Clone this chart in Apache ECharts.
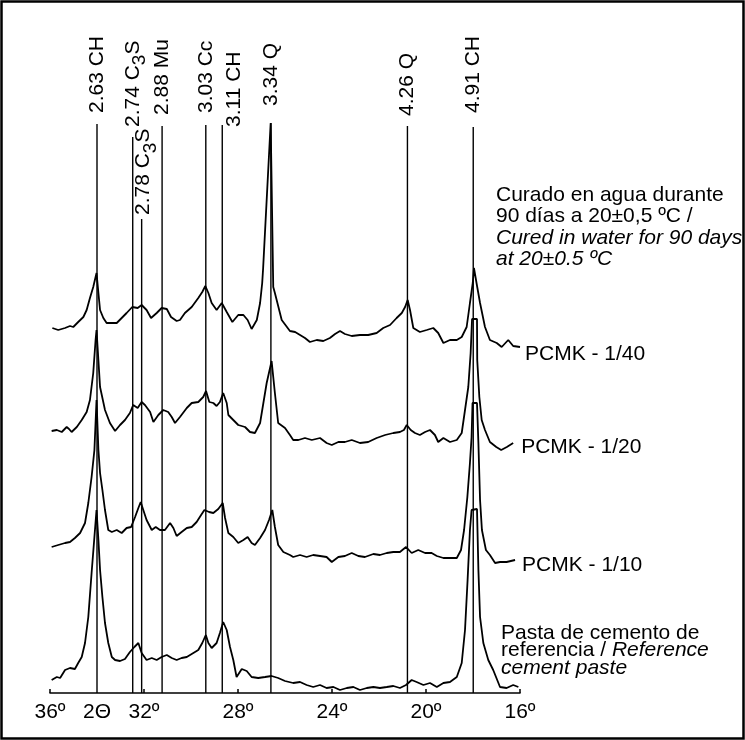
<!DOCTYPE html>
<html><head><meta charset="utf-8">
<script src="https://cdn.jsdelivr.net/npm/echarts@6/dist/echarts.min.js"></script>
<style>html,body{margin:0;padding:0;background:#fff}#c{width:745px;height:740px}</style>
</head><body><div id="c"></div>
<script>
// ---- DATA (2θ in degrees, intensity in arbitrary stacked units) ----
const pcmk140 = [[35.90,365],[35.65,363],[35.36,365],[35.15,367],[35.01,366],[34.80,371],[34.58,376],[34.44,383],[34.30,395],[34.16,406],[34.02,420],[33.94,400],[33.87,383],[33.73,375],[33.59,370],[33.37,370],[33.16,370],[32.95,375],[32.74,380],[32.50,386],[32.27,385],[32.10,388],[31.89,383],[31.70,375],[31.46,380],[31.25,385],[31.03,384],[30.85,376],[30.61,372],[30.47,373],[30.26,380],[29.97,386],[29.69,395],[29.52,401],[29.39,407],[29.26,400],[29.12,390],[28.91,383],[28.69,390],[28.48,381],[28.24,371],[27.99,378],[27.77,378],[27.59,373],[27.42,364],[27.20,373],[27.06,390],[26.97,410],[26.93,425],[26.61,570],[26.50,406],[26.43,400],[26.14,373],[25.79,362],[25.57,361],[25.36,358],[25.15,355],[24.94,351],[24.65,353],[24.37,352],[24.09,355],[23.87,359],[23.66,362],[23.45,359],[23.16,357],[22.81,358],[22.46,358],[22.10,360],[21.82,365],[21.53,368],[21.25,375],[21.03,380],[20.89,386],[20.78,393],[20.68,383],[20.54,365],[20.26,361],[19.97,363],[19.69,365],[19.48,360],[19.26,350],[18.98,353],[18.69,353],[18.48,356],[18.27,366],[18.13,390],[18.01,410],[17.96,425],[17.82,406],[17.70,390],[17.49,366],[17.28,353],[16.99,350],[16.78,346],[16.50,353],[16.29,347],[16.00,346]];
const pcmk120 = [[35.93,262],[35.71,263],[35.50,261],[35.29,266],[35.19,264],[35.08,261],[34.86,266],[34.65,273],[34.44,281],[34.30,293],[34.16,320],[34.06,353],[34.02,363],[33.87,306],[33.66,283],[33.45,270],[33.23,262],[33.02,268],[32.81,273],[32.60,280],[32.46,288],[32.27,285],[32.10,291],[31.96,288],[31.74,281],[31.60,271],[31.39,278],[31.18,283],[30.97,281],[30.82,276],[30.68,270],[30.47,276],[30.18,285],[29.97,290],[29.69,291],[29.48,296],[29.36,302],[29.22,291],[29.05,290],[28.91,287],[28.77,291],[28.63,300],[28.48,290],[28.41,278],[28.20,273],[27.99,268],[27.70,266],[27.49,261],[27.28,260],[27.06,270],[26.92,290],[26.78,310],[26.57,332],[26.43,300],[26.29,270],[26.00,265],[25.79,258],[25.65,253],[25.43,253],[25.15,255],[24.86,253],[24.51,255],[24.23,250],[24.01,248],[23.73,251],[23.45,251],[23.16,253],[22.81,250],[22.46,251],[22.10,255],[21.74,258],[21.39,260],[21.11,261],[20.94,263],[20.82,268],[20.65,263],[20.47,260],[20.26,258],[20.04,261],[19.83,263],[19.62,258],[19.48,251],[19.26,255],[18.98,251],[18.69,253],[18.48,260],[18.34,283],[18.20,306],[18.10,340],[18.04,374],[17.83,374],[17.82,333],[17.73,296],[17.63,273],[17.49,263],[17.28,251],[17.01,246],[16.80,243],[16.56,246],[16.29,250]];
const pcmk110 = [[35.93,146],[35.65,148],[35.36,150],[35.15,151],[34.94,155],[34.72,160],[34.51,170],[34.37,190],[34.23,216],[34.11,243],[34.02,293],[33.94,243],[33.87,220],[33.77,203],[33.66,183],[33.52,163],[33.37,161],[33.16,163],[32.95,160],[32.74,165],[32.55,166],[32.38,176],[32.24,185],[32.14,191],[32.03,183],[31.89,173],[31.67,163],[31.50,166],[31.32,163],[31.11,163],[30.89,170],[30.75,165],[30.61,157],[30.40,161],[30.18,165],[29.97,166],[29.76,171],[29.57,178],[29.43,183],[29.23,181],[29.05,180],[28.84,184],[28.65,190],[28.55,175],[28.41,160],[28.20,156],[27.99,150],[27.77,153],[27.59,156],[27.42,150],[27.28,148],[27.06,155],[26.85,163],[26.68,173],[26.54,183],[26.43,166],[26.29,148],[26.07,141],[25.79,138],[25.65,136],[25.36,138],[25.08,136],[24.80,138],[24.51,137],[24.23,136],[24.01,131],[23.73,136],[23.45,137],[23.16,140],[22.88,137],[22.60,136],[22.24,139],[21.96,138],[21.67,140],[21.39,141],[21.11,141],[20.85,146],[20.61,140],[20.33,143],[20.04,140],[19.76,140],[19.54,137],[19.26,135],[18.98,135],[18.69,135],[18.51,143],[18.38,163],[18.24,196],[18.13,230],[18.06,256],[18.02,290],[17.83,290],[17.77,250],[17.70,193],[17.62,163],[17.45,143],[17.28,138],[17.06,130],[16.85,131],[16.57,131],[16.21,133]];
const refPaste = [[35.93,13],[35.71,16],[35.57,15],[35.36,23],[35.15,25],[34.94,24],[34.80,30],[34.65,36],[34.51,50],[34.37,76],[34.23,120],[34.11,156],[34.02,183],[33.94,153],[33.87,123],[33.77,96],[33.66,70],[33.52,50],[33.37,36],[33.23,33],[33.02,32],[32.81,34],[32.60,41],[32.41,46],[32.24,50],[32.10,40],[31.89,33],[31.67,35],[31.46,33],[31.25,36],[31.03,38],[30.82,35],[30.61,33],[30.40,35],[30.18,36],[29.90,40],[29.69,43],[29.52,50],[29.37,58],[29.26,50],[29.12,45],[28.91,50],[28.77,60],[28.63,71],[28.48,63],[28.34,46],[28.20,33],[28.06,16],[27.84,24],[27.63,22],[27.42,16],[27.14,15],[26.85,16],[26.57,17],[26.29,15],[26.00,12],[25.65,10],[25.36,11],[25.08,8],[24.80,6],[24.51,8],[24.23,5],[23.94,6],[23.66,3],[23.37,5],[23.09,6],[22.81,3],[22.52,5],[22.24,6],[21.96,5],[21.67,6],[21.39,7],[21.11,5],[20.85,8],[20.61,13],[20.40,11],[20.11,8],[19.83,10],[19.54,6],[19.26,10],[18.98,11],[18.69,16],[18.48,30],[18.34,63],[18.23,113],[18.13,163],[18.06,183],[18.02,184],[17.83,184],[17.77,123],[17.70,76],[17.56,50],[17.35,33],[17.14,23],[16.85,6],[16.57,5],[16.29,8],[16.07,6]];

const seriesNames = ['PCMK - 1/40', 'PCMK - 1/20', 'PCMK - 1/10', 'Pasta de cemento de referencia'];

// reflection markers
const peakPos   = [34.00, 32.48, 32.10, 31.23, 29.37, 28.67, 26.60, 20.79, 17.99];
const peakD     = ['2.63', '2.74', '2.78', '2.88', '3.03', '3.11', '3.34', '4.26', '4.91'];
const peakPhase = ['CH', 'C3S', 'C3S', 'Mu', 'Cc', 'CH', 'Q', 'Q', 'CH'];
const peakTop   = [569, 556, 474, 567, 568, 568, 570, 567, 566];

// axis tick labels
const tickValues = [36, 32, 28, 24, 20, 16];
const axisTitle = '2Θ';

// ---- STYLE ----
const FONT = "'Liberation Sans', Arial, Helvetica, sans-serif";
const labelGap = [11, 10, 4, 11, 12, -2, 17, 10, 14];
const labelDx  = [0, 0, 2, 0, 0, 12, 0, 0, 0];
const endLabelStyle = [
  {distance: 5, dy: 7},
  {distance: 8, dy: 4},
  {distance: 7, dy: 5},
  null
];

const traces = [pcmk140, pcmk120, pcmk110, refPaste];

const traceSeries = traces.map((arr, si) => {
  const el = endLabelStyle[si];
  const data = arr.map((p, i) => {
    if (el && i === arr.length - 1) {
      return {value: p, symbol: 'circle', symbolSize: 0,
        label: {show: true, position: 'right', distance: el.distance, offset: [0, el.dy],
          formatter: seriesNames[si], fontSize: 21, fontFamily: FONT, color: '#000'}};
    }
    return {value: p};
  });
  return {
    name: seriesNames[si], type: 'line', symbol: 'none', showSymbol: true, clip: false, silent: true,
    lineStyle: {color: '#000', width: 1.8}, itemStyle: {color: '#000'},
    data: data, z: 3
  };
});

const markerSeries = peakPos.map((x, i) => ({
  type: 'line', symbol: 'circle', symbolSize: 0, showSymbol: true, clip: false, silent: true,
  lineStyle: {color: '#000', width: 1.4}, itemStyle: {color: '#000'}, z: 2,
  label: {
    show: false, position: 'top', distance: labelGap[i], rotate: 90,
    align: 'left', verticalAlign: 'middle', offset: [0, labelDx[i]],
    fontSize: 21, fontFamily: FONT, color: '#000',
    formatter: () => peakD[i] + ' ' + peakPhase[i].replace('C3S', 'C{s|3}S'),
    rich: {s: {fontSize: 19, fontFamily: FONT, color: '#000', padding: [14, 0, 0, 0]}}
  },
  data: [{value: [x, 0]}, {value: [x, peakTop[i]], label: {show: true}}]
}));

const chart = echarts.init(document.getElementById('c'), null, {renderer: 'canvas', width: 745, height: 740});
chart.setOption({
  backgroundColor: '#fff',
  animation: false,
  grid: {left: 50, right: 225, top: 93, bottom: 47, outerBoundsMode: 'none'},
  xAxis: [
    {type: 'value', min: 16, max: 36, interval: 4, inverse: true, position: 'bottom',
     axisLine: {show: true, onZero: false, lineStyle: {color: '#000', width: 1.6}},
     axisTick: {show: true, inside: true, length: 4, lineStyle: {color: '#000', width: 1.5}},
     splitLine: {show: false},
     axisLabel: {fontSize: 21, fontFamily: FONT, color: '#000', margin: 9,
       formatter: v => tickValues.indexOf(v) >= 0 ? v + 'º' : ''}},
    {type: 'value', min: 16, max: 36, interval: 2, inverse: true, position: 'bottom', offset: 0,
     axisLine: {show: false}, axisTick: {show: false}, splitLine: {show: false},
     axisLabel: {fontSize: 21, fontFamily: FONT, color: '#000', margin: 9,
       formatter: v => v === 34 ? axisTitle : ''}}
  ],
  yAxis: {type: 'value', min: 0, max: 600, show: false},
  series: traceSeries.concat(markerSeries),
  graphic: [
    {type: 'rect', silent: true, shape: {x: 1.5, y: 1.5, width: 742, height: 737},
     style: {fill: 'none', stroke: '#000', lineWidth: 2.5}},
    {type: 'text', silent: true, x: 496, y: 184,
     style: {text: 'Curado en agua durante\n90 días a 20±0,5 ºC /\n{i|Cured in water for 90 days}\n{i|at 20±0.5 ºC}',
       fontSize: 21, fontFamily: FONT, lineHeight: 21.5, fill: '#000', verticalAlign: 'top', align: 'left',
       rich: {i: {fontStyle: 'italic', fontSize: 21, fontFamily: FONT, lineHeight: 21.5, fill: '#000'}}}},
    {type: 'text', silent: true, x: 501, y: 624,
     style: {text: 'Pasta de cemento de\nreferencia / {i|Reference}\n{i|cement paste}',
       fontSize: 21, fontFamily: FONT, lineHeight: 17.5, fill: '#000', verticalAlign: 'top', align: 'left',
       rich: {i: {fontStyle: 'italic', fontSize: 21, fontFamily: FONT, lineHeight: 17.5, fill: '#000'}}}}
  ]
});
</script></body></html>
